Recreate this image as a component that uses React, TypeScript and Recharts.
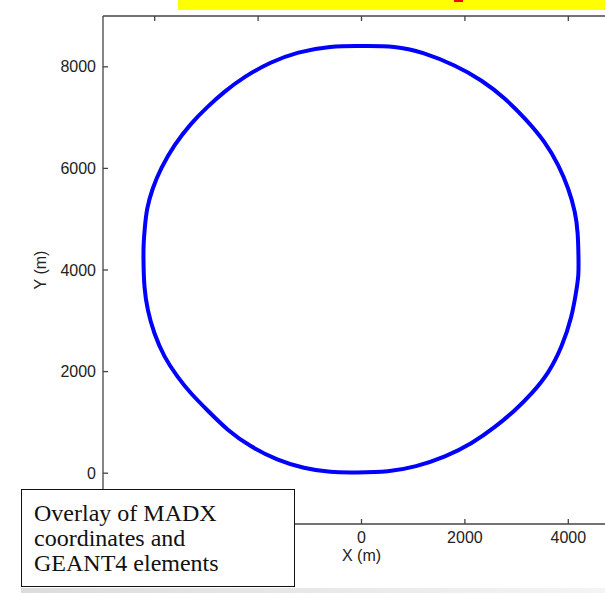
import React from 'react';
import { LineChart, Line, XAxis, YAxis } from 'recharts';

// Ring trajectory in the horizontal plane (metres), traced clockwise from the middle of the top straight.
const ringX = [
  0, 657, 1173, 1816, 2332, 2783, 3169, 3556, 3813, 4006, 4135, 4187, 4199, 4199,
  4168, 4071, 3878, 3619, 3298, 2976, 2589, 2139, 1623, 1043, 528, -116,
  -599, -1115, -1629, -2145, -2595, -2982, -3304, -3561, -3820, -4014, -4141, -4207, -4218,
  -4218, -4193, -4155, -4045, -3884, -3627, -3304, -2982, -2661, -2274, -1758, -1242, -599, 0,
];
const ringY = [
  8411, 8411, 8293, 8031, 7736, 7376, 6982, 6522, 6063, 5604, 5144, 4750, 4193, 3898,
  3667, 3077, 2486, 1963, 1569, 1240, 911, 585, 321, 124, 26, 14,
  14, 93, 256, 518, 846, 1240, 1569, 1896, 2289, 2750, 3209, 3667, 4193,
  4488, 4817, 5211, 5604, 5998, 6457, 6884, 7211, 7506, 7801, 8095, 8293, 8411, 8411,
];

const xTicks = [-4000, -2000, 0, 2000, 4000];
const xTickLabels = ['', '', '0', '2000', '4000'];
const yTicks = [0, 2000, 4000, 6000, 8000];
const xDomain = [-5000, 5000];
const yDomain = [-1000, 9000];

const ring = ringX.map((x, i) => ({ x, y: ringY[i] }));

const tickFont = { fontFamily: '"Liberation Sans", Arial, sans-serif', fontSize: 16, fill: '#222' };
const axisStroke = '#444';

export default function App() {
  return (
    <div
      style={{
        position: 'fixed',
        left: 0,
        top: 0,
        width: 605,
        height: 593,
        overflow: 'hidden',
        background: '#fff',
      }}
    >
      {/* banner strip along the top edge */}
      <div style={{ position: 'absolute', left: 178, top: 0, width: 427, height: 10, background: '#ffff00' }} />
      <div style={{ position: 'absolute', left: 454, top: 0, width: 9, height: 2, background: '#ff0000' }} />

      <div style={{ position: 'absolute', left: 0, top: 0 }}>
        <LineChart width={660} height={593} data={ring} margin={{ top: 0, right: 40, bottom: 0, left: 0 }}>
          <XAxis
            xAxisId="top"
            orientation="top"
            type="number"
            dataKey="x"
            domain={xDomain}
            ticks={xTicks}
            height={16}
            tickSize={-5}
            tickFormatter={() => ''}
            stroke={axisStroke}
            strokeWidth={1.3}
          />
          <XAxis
            type="number"
            dataKey="x"
            domain={xDomain}
            ticks={xTicks}
            height={69}
            tickSize={-5}
            tickMargin={13}
            tick={tickFont}
            tickFormatter={(v: number) => xTickLabels[xTicks.indexOf(v)] ?? ''}
            stroke={axisStroke}
            strokeWidth={1.3}
            label={{
              content: ({ viewBox }: any) => (
                <text
                  x={viewBox.x + viewBox.width / 2}
                  y={viewBox.y + 31}
                  textAnchor="middle"
                  dominantBaseline="central"
                  style={tickFont}
                >
                  X (m)
                </text>
              ),
            }}
          />
          <YAxis
            type="number"
            domain={yDomain}
            ticks={yTicks}
            width={103}
            tickSize={-5}
            tickMargin={12}
            tick={tickFont}
            stroke={axisStroke}
            strokeWidth={1.3}
            label={{
              content: ({ viewBox }: any) => {
                const cx = viewBox.x + 40;
                const cy = viewBox.y + viewBox.height / 2;
                return (
                  <text
                    x={cx}
                    y={cy}
                    textAnchor="middle"
                    dominantBaseline="central"
                    transform={`rotate(-90 ${cx} ${cy})`}
                    style={tickFont}
                  >
                    Y (m)
                  </text>
                );
              },
            }}
          />
          <Line
            xAxisId={0}
            type="basis"
            dataKey="y"
            stroke="#0000ff"
            strokeWidth={4}
            dot={false}
            isAnimationActive={false}
          />
        </LineChart>
      </div>

      {/* caption box */}
      <div
        style={{
          position: 'absolute',
          left: 21,
          top: 489,
          width: 272,
          height: 96,
          border: '1.5px solid #111',
          background: '#fff',
          boxSizing: 'content-box',
        }}
      >
        <div
          style={{
            position: 'absolute',
            left: 12,
            top: 11,
            fontFamily: '"Liberation Serif", "Times New Roman", serif',
            fontSize: 24,
            lineHeight: '25px',
            color: '#111',
            whiteSpace: 'nowrap',
          }}
        >
          Overlay of MADX
          <br />
          coordinates and
          <br />
          GEANT4 elements
        </div>
      </div>
      <div
        style={{
          position: 'absolute',
          left: 21,
          top: 588,
          width: 584,
          height: 5,
          background: 'linear-gradient(to right, #dcdcdc, #f4f4f4)',
        }}
      />
    </div>
  );
}
